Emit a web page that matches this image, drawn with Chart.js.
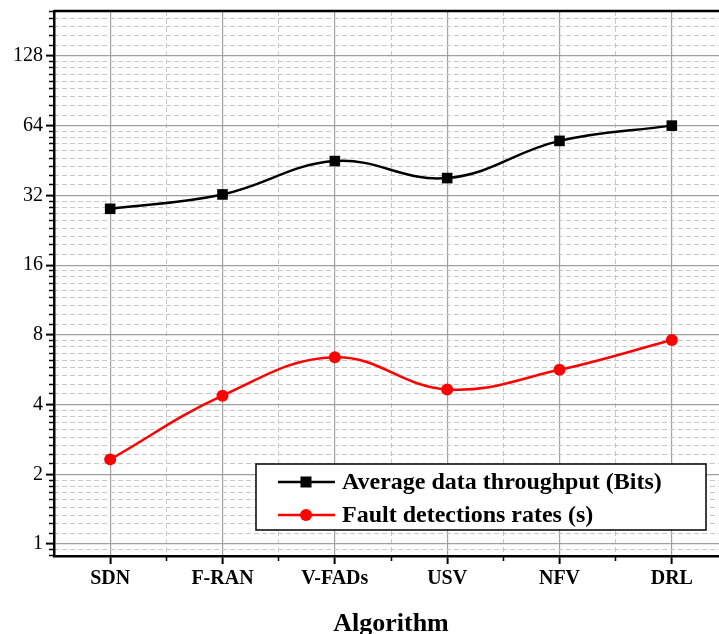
<!DOCTYPE html>
<html>
<head>
<meta charset="utf-8">
<script src="https://cdn.jsdelivr.net/npm/chart.js@4.4.1/dist/chart.umd.min.js"></script>
<style>
  html, body { margin: 0; padding: 0; background: #fff; overflow: hidden; }
  #wrap { width: 740px; height: 640px; }
</style>
</head>
<body>
<div id="wrap"><canvas id="chart" width="740" height="640"></canvas></div>
<script>
const categories = ['SDN', 'F-RAN', 'V-FADs', 'USV', 'NFV', 'DRL'];
const throughput = [28, 32.3, 45, 38, 55, 64];
const faultRates = [2.32, 4.37, 6.4, 4.65, 5.65, 7.6];
const yMajorTicks = [1, 2, 4, 8, 16, 32, 64, 128];
const yMin = 0.888;
const yMax = 200;

// minor ticks: 8 per octave, linear steps of 1/9
const yMinorTicks = [];
[0.5].concat(yMajorTicks).forEach(p => {
  for (let k = 1; k <= 8; k++) {
    const v = p * (1 + k / 9);
    if (v > yMin && v < yMax) yMinorTicks.push(v);
  }
});
const xMajor = categories.map((c, i) => i);
const xMinor = categories.slice(1).map((c, i) => i + 0.5);

const serif = '"Liberation Serif", "Times New Roman", serif';
const series = [
  { label: 'Average data throughput (Bits)', data: throughput, color: '#000000', style: 'rect', radius: 7.5 },
  { label: 'Fault detections rates (s)', data: faultRates, color: '#ff0000', style: 'circle', radius: 6 }
];

const noPad = s => { s.paddingTop = 0; s.paddingBottom = 0; s.paddingLeft = 0; s.paddingRight = 0; };

const frameAndLegend = {
  id: 'frameAndLegend',
  afterDraw(chart) {
    const ctx = chart.ctx;
    const a = chart.chartArea;
    ctx.save();
    // top / right frame
    ctx.strokeStyle = '#000';
    ctx.lineWidth = 2.5;
    ctx.beginPath();
    ctx.moveTo(a.left, a.top);
    ctx.lineTo(a.right, a.top);
    ctx.lineTo(a.right, a.bottom);
    ctx.stroke();

    // legend box
    const bx = 256, by = 464, bw = 450, bh = 66;
    ctx.fillStyle = '#fff';
    ctx.fillRect(bx, by, bw, bh);
    ctx.lineWidth = 1.5;
    ctx.strokeRect(bx, by, bw, bh);
    ctx.font = 'bold 24px ' + serif;
    ctx.textBaseline = 'middle';
    series.forEach((s, i) => {
      const y = by + 18 + i * 33;
      ctx.strokeStyle = s.color;
      ctx.fillStyle = s.color;
      ctx.lineWidth = 2.5;
      ctx.beginPath();
      ctx.moveTo(bx + 22, y);
      ctx.lineTo(bx + 79, y);
      ctx.stroke();
      if (s.style === 'rect') {
        ctx.fillRect(bx + 50 - 5.5, y - 5.5, 11, 11);
      } else {
        ctx.beginPath();
        ctx.arc(bx + 50, y, 6, 0, Math.PI * 2);
        ctx.fill();
      }
      ctx.fillStyle = '#000';
      ctx.fillText(s.label, bx + 86, y + 1);
    });
    ctx.restore();
  }
};

new Chart(document.getElementById('chart'), {
  type: 'line',
  data: {
    datasets: series.map(s => ({
      label: s.label,
      data: s.data.map((v, i) => ({ x: i, y: v })),
      borderColor: s.color,
      backgroundColor: s.color,
      borderWidth: 2.5,
      pointStyle: s.style,
      pointRadius: s.radius,
      pointHoverRadius: s.radius,
      pointBorderWidth: 0,
      tension: 0.4,
      fill: false
    }))
  },
  options: {
    responsive: false,
    animation: false,
    layout: { padding: { left: 0, right: 12, top: 11, bottom: 0 } },
    plugins: { legend: { display: false }, tooltip: { enabled: false } },
    scales: {
      x: {
        type: 'linear',
        position: 'bottom',
        weight: 1,
        min: -0.5,
        max: 5.5,
        afterBuildTicks: s => { s.ticks = xMajor.map(v => ({ value: v })); },
        afterFit: s => { s.height = 84; noPad(s); },
        ticks: {
          autoSkip: false,
          maxRotation: 0,
          padding: 3,
          color: '#000',
          font: { family: serif, size: 20, weight: 'bold' },
          callback: v => categories[v] || ''
        },
        grid: { color: '#a0a0a0', lineWidth: 1.2, tickColor: '#000', tickWidth: 2, tickLength: 8 },
        border: { color: '#000', width: 2.5 },
        title: {
          display: true,
          text: 'Algorithm',
          color: '#000',
          font: { family: serif, size: 26, weight: 'bold' },
          padding: { top: 0, bottom: 0 }
        }
      },
      x2: {
        type: 'linear',
        position: 'bottom',
        weight: 0,
        min: -0.5,
        max: 5.5,
        afterBuildTicks: s => { s.ticks = xMinor.map(v => ({ value: v })); },
        afterFit: s => { s.height = 0; noPad(s); },
        ticks: { display: false },
        grid: { color: '#c8c8c8', lineWidth: 1, tickColor: '#000', tickWidth: 1.5, tickLength: 5, tickBorderDash: [] },
        border: { display: false, dash: [5, 3] }
      },
      y: {
        type: 'logarithmic',
        position: 'left',
        weight: 1,
        min: yMin,
        max: yMax,
        afterBuildTicks: s => { s.ticks = yMajorTicks.map(v => ({ value: v })); },
        afterFit: s => { s.width = 54; noPad(s); },
        ticks: {
          padding: 3,
          color: '#000',
          font: { family: serif, size: 20 },
          callback: v => String(v)
        },
        grid: { color: '#a0a0a0', lineWidth: 1.2, tickColor: '#000', tickWidth: 2, tickLength: 8 },
        border: { color: '#000', width: 2.5 }
      },
      y2: {
        type: 'logarithmic',
        position: 'left',
        weight: 0,
        min: yMin,
        max: yMax,
        afterBuildTicks: s => { s.ticks = yMinorTicks.map(v => ({ value: v })); },
        afterFit: s => { s.width = 0; noPad(s); },
        ticks: { display: false },
        grid: { color: '#c8c8c8', lineWidth: 1, tickColor: '#000', tickWidth: 1.5, tickLength: 5, tickBorderDash: [] },
        border: { display: false, dash: [5, 3] }
      }
    }
  },
  plugins: [frameAndLegend]
});
</script>
</body>
</html>
